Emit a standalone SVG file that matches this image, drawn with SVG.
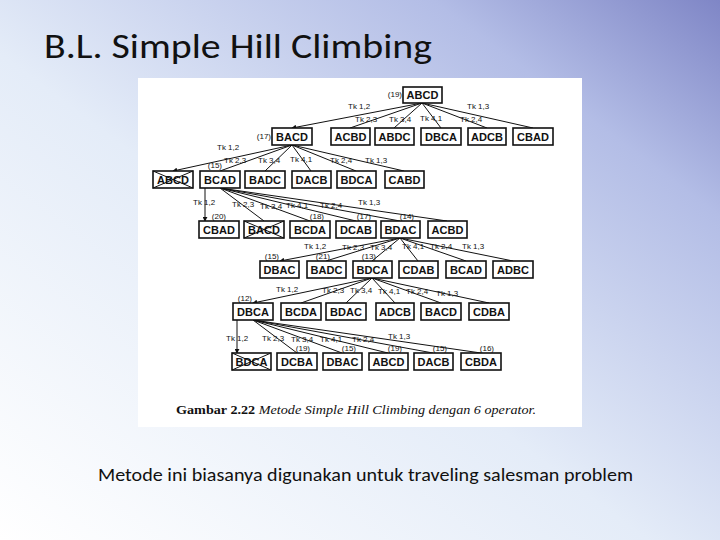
<svg xmlns="http://www.w3.org/2000/svg" width="720" height="540" viewBox="0 0 720 540">
<defs>
<linearGradient id="bg" x1="0" y1="1" x2="1" y2="0">
<stop offset="0" stop-color="#ffffff"/><stop offset="0.45" stop-color="#e4ecf8"/><stop offset="0.8" stop-color="#b3bde6"/><stop offset="1" stop-color="#7f86c6"/>
</linearGradient>
<marker id="ah" viewBox="0 0 6 6" refX="5" refY="3" markerWidth="5" markerHeight="5" orient="auto"><path d="M0,0 L6,3 L0,6 z" fill="#111"/></marker>
</defs>
<style>
.n rect{fill:#fff;stroke:#111;stroke-width:1.6}
.n text{font-family:"Liberation Sans",Arial,sans-serif;font-weight:bold;font-size:11px;text-anchor:middle;fill:#111}
.x line{stroke:#111;stroke-width:1}
.e line{stroke:#111;stroke-width:1}
.e line.a{marker-end:url(#ah)}
.t{font-family:"Liberation Sans",Arial,sans-serif;font-size:8px;fill:#111}
.s{font-family:"Liberation Sans",Arial,sans-serif;font-size:8px;fill:#111;text-anchor:end}
</style>
<rect width="720" height="540" fill="url(#bg)"/>
<text x="44" y="58" font-family="Carlito,Calibri,'Liberation Sans',sans-serif" font-size="34" textLength="388" lengthAdjust="spacingAndGlyphs" fill="#111">B.L. Simple Hill Climbing</text>
<rect x="138" y="78" width="444" height="349" fill="#fff"/>
<g class="e">
<line class="a" x1="422" y1="103" x2="292" y2="128"/><line x1="422" y1="103" x2="350" y2="128"/><line x1="422" y1="103" x2="394" y2="128"/><line x1="422" y1="103" x2="441" y2="128"/><line x1="422" y1="103" x2="487" y2="128"/><line x1="422" y1="103" x2="533" y2="128"/>
<line class="a" x1="292" y1="145" x2="173" y2="171"/><line x1="292" y1="145" x2="220" y2="171"/><line x1="292" y1="145" x2="265" y2="171"/><line x1="292" y1="145" x2="311" y2="171"/><line x1="292" y1="145" x2="356" y2="171"/><line x1="292" y1="145" x2="404" y2="171"/>
<line class="a" x1="205" y1="188" x2="205" y2="221"/><line x1="220" y1="188" x2="264" y2="221"/><line x1="220" y1="188" x2="310" y2="221"/><line x1="220" y1="188" x2="356" y2="221"/><line x1="220" y1="188" x2="400" y2="221"/><line x1="220" y1="188" x2="447" y2="221"/>
<line class="a" x1="400" y1="238" x2="280" y2="261"/><line x1="400" y1="238" x2="326" y2="261"/><line x1="400" y1="238" x2="372" y2="261"/><line x1="400" y1="238" x2="418" y2="261"/><line x1="400" y1="238" x2="466" y2="261"/><line x1="400" y1="238" x2="513" y2="261"/>
<line class="a" x1="372" y1="278" x2="253" y2="303"/><line x1="372" y1="278" x2="301" y2="303"/><line x1="372" y1="278" x2="346" y2="303"/><line x1="372" y1="278" x2="395" y2="303"/><line x1="372" y1="278" x2="441" y2="303"/><line x1="372" y1="278" x2="489" y2="303"/>
<line class="a" x1="237" y1="320" x2="237" y2="353"/><line x1="253" y1="320" x2="297" y2="353"/><line x1="253" y1="320" x2="342" y2="353"/><line x1="253" y1="320" x2="388" y2="353"/><line x1="253" y1="320" x2="433" y2="353"/><line x1="253" y1="320" x2="481" y2="353"/>
</g>
<g id="edge-labels">
<text class="t" x="348" y="109">Tk 1,2</text><text class="t" x="355" y="122">Tk 2,3</text><text class="t" x="389" y="122">Tk 3,4</text><text class="t" x="420" y="121">Tk 4,1</text><text class="t" x="460" y="122">Tk 2,4</text><text class="t" x="467" y="109">Tk 1,3</text>
<text class="t" x="217" y="150">Tk 1,2</text><text class="t" x="224" y="163">Tk 2,3</text><text class="t" x="258" y="163">Tk 3,4</text><text class="t" x="290" y="162">Tk 4,1</text><text class="t" x="330" y="163">Tk 2,4</text><text class="t" x="365" y="163">Tk 1,3</text>
<text class="t" x="193" y="205">Tk 1,2</text><text class="t" x="232" y="207">Tk 2,3</text><text class="t" x="260" y="209">Tk 3,4</text><text class="t" x="286" y="208">Tk 4,1</text><text class="t" x="320" y="208">Tk 2,4</text><text class="t" x="358" y="205">Tk 1,3</text>
<text class="t" x="304" y="249">Tk 1,2</text><text class="t" x="342" y="250">Tk 2,3</text><text class="t" x="370" y="250">Tk 3,4</text><text class="t" x="402" y="249">Tk 4,1</text><text class="t" x="430" y="249">Tk 2,4</text><text class="t" x="462" y="249">Tk 1,3</text>
<text class="t" x="276" y="292">Tk 1,2</text><text class="t" x="322" y="293">Tk 2,3</text><text class="t" x="350" y="293">Tk 3,4</text><text class="t" x="378" y="294">Tk 4,1</text><text class="t" x="406" y="294">Tk 2,4</text><text class="t" x="436" y="296">Tk 1,3</text>
<text class="t" x="226" y="341">Tk 1,2</text><text class="t" x="262" y="341">Tk 2,3</text><text class="t" x="291" y="342">Tk 3,4</text><text class="t" x="320" y="342">Tk 4,1</text><text class="t" x="352" y="342">Tk 2,4</text><text class="t" x="388" y="339">Tk 1,3</text>
</g>
<g id="scores">
<text class="s" x="402" y="97">(19)</text><text class="s" x="271" y="139">(17)</text><text class="s" x="222" y="168">(15)</text>
<text class="s" x="226" y="219">(20)</text><text class="s" x="324" y="219">(18)</text><text class="s" x="371" y="219">(17)</text><text class="s" x="414" y="219">(14)</text>
<text class="s" x="279" y="259">(15)</text><text class="s" x="330" y="259">(21)</text><text class="s" x="376" y="259">(13)</text>
<text class="s" x="252" y="301">(12)</text>
<text class="s" x="310" y="351">(19)</text><text class="s" x="356" y="351">(15)</text><text class="s" x="402" y="351">(19)</text><text class="s" x="447" y="351">(15)</text><text class="s" x="494" y="351">(16)</text>
</g>
<g id="n0" class="n"><rect x="403" y="87" width="39" height="16"/><text x="422.5" y="99">ABCD</text></g>
<g id="n1a" class="n"><rect x="272" y="128" width="40" height="17"/><text x="292" y="141">BACD</text></g>
<g id="n1b" class="n"><rect x="331" y="128" width="39" height="17"/><text x="350.5" y="141">ACBD</text></g>
<g id="n1c" class="n"><rect x="375" y="128" width="39" height="17"/><text x="394.5" y="141">ABDC</text></g>
<g id="n1d" class="n"><rect x="421" y="128" width="40" height="17"/><text x="441" y="141">DBCA</text></g>
<g id="n1e" class="n"><rect x="468" y="128" width="38" height="17"/><text x="487" y="141">ADCB</text></g>
<g id="n1f" class="n"><rect x="513" y="128" width="40" height="17"/><text x="533" y="141">CBAD</text></g>
<g id="n2a" class="n"><rect x="153" y="171" width="40" height="17"/><text x="173" y="184">ABCD</text><g class="x"><line x1="153" y1="171" x2="193" y2="188"/><line x1="153" y1="188" x2="193" y2="171"/></g></g>
<g id="n2b" class="n"><rect x="200" y="171" width="40" height="17"/><text x="220" y="184">BCAD</text></g>
<g id="n2c" class="n"><rect x="245" y="171" width="40" height="17"/><text x="265" y="184">BADC</text></g>
<g id="n2d" class="n"><rect x="292" y="171" width="39" height="17"/><text x="311.5" y="184">DACB</text></g>
<g id="n2e" class="n"><rect x="337" y="171" width="39" height="17"/><text x="356.5" y="184">BDCA</text></g>
<g id="n2f" class="n"><rect x="385" y="171" width="39" height="17"/><text x="404.5" y="184">CABD</text></g>
<g id="n3a" class="n"><rect x="199" y="221" width="40" height="17"/><text x="219" y="234">CBAD</text></g>
<g id="n3b" class="n"><rect x="244" y="221" width="40" height="17"/><text x="264" y="234">BACD</text><g class="x"><line x1="244" y1="221" x2="284" y2="238"/><line x1="244" y1="238" x2="284" y2="221"/></g></g>
<g id="n3c" class="n"><rect x="290" y="221" width="40" height="17"/><text x="310" y="234">BCDA</text></g>
<g id="n3d" class="n"><rect x="336" y="221" width="40" height="17"/><text x="356" y="234">DCAB</text></g>
<g id="n3e" class="n"><rect x="381" y="221" width="39" height="17"/><text x="400.5" y="234">BDAC</text></g>
<g id="n3f" class="n"><rect x="428" y="221" width="39" height="17"/><text x="447.5" y="234">ACBD</text></g>
<g id="n4a" class="n"><rect x="260" y="261" width="39" height="17"/><text x="279.5" y="274">DBAC</text></g>
<g id="n4b" class="n"><rect x="307" y="261" width="39" height="17"/><text x="326.5" y="274">BADC</text></g>
<g id="n4c" class="n"><rect x="353" y="261" width="39" height="17"/><text x="372.5" y="274">BDCA</text></g>
<g id="n4d" class="n"><rect x="399" y="261" width="39" height="17"/><text x="418.5" y="274">CDAB</text></g>
<g id="n4e" class="n"><rect x="446" y="261" width="40" height="17"/><text x="466" y="274">BCAD</text></g>
<g id="n4f" class="n"><rect x="493" y="261" width="40" height="17"/><text x="513" y="274">ADBC</text></g>
<g id="n5a" class="n"><rect x="233" y="303" width="40" height="17"/><text x="253" y="316">DBCA</text></g>
<g id="n5b" class="n"><rect x="281" y="303" width="40" height="17"/><text x="301" y="316">BCDA</text></g>
<g id="n5c" class="n"><rect x="326" y="303" width="40" height="17"/><text x="346" y="316">BDAC</text></g>
<g id="n5d" class="n"><rect x="376" y="303" width="38" height="17"/><text x="395" y="316">ADCB</text></g>
<g id="n5e" class="n"><rect x="421" y="303" width="40" height="17"/><text x="441" y="316">BACD</text></g>
<g id="n5f" class="n"><rect x="469" y="303" width="40" height="17"/><text x="489" y="316">CDBA</text></g>
<g id="n6a" class="n"><rect x="232" y="353" width="39" height="17"/><text x="251.5" y="366">BDCA</text><g class="x"><line x1="232" y1="353" x2="271" y2="370"/><line x1="232" y1="370" x2="271" y2="353"/></g></g>
<g id="n6b" class="n"><rect x="277" y="353" width="40" height="17"/><text x="297" y="366">DCBA</text></g>
<g id="n6c" class="n"><rect x="323" y="353" width="39" height="17"/><text x="342.5" y="366">DBAC</text></g>
<g id="n6d" class="n"><rect x="369" y="353" width="39" height="17"/><text x="388.5" y="366">ABCD</text></g>
<g id="n6e" class="n"><rect x="414" y="353" width="39" height="17"/><text x="433.5" y="366">DACB</text></g>
<g id="n6f" class="n"><rect x="461" y="353" width="40" height="17"/><text x="481" y="366">CBDA</text></g>
<text x="176" y="414" font-family="'Liberation Serif',serif" font-size="13" textLength="360" lengthAdjust="spacingAndGlyphs" fill="#111"><tspan font-weight="bold">Gambar 2.22</tspan><tspan font-style="italic"> Metode Simple Hill Climbing dengan 6 operator.</tspan></text>
<text x="98" y="481" font-family="Carlito,Calibri,'Liberation Sans',sans-serif" font-size="18" textLength="535" lengthAdjust="spacingAndGlyphs" fill="#111">Metode ini biasanya digunakan untuk traveling salesman problem</text>
</svg>
